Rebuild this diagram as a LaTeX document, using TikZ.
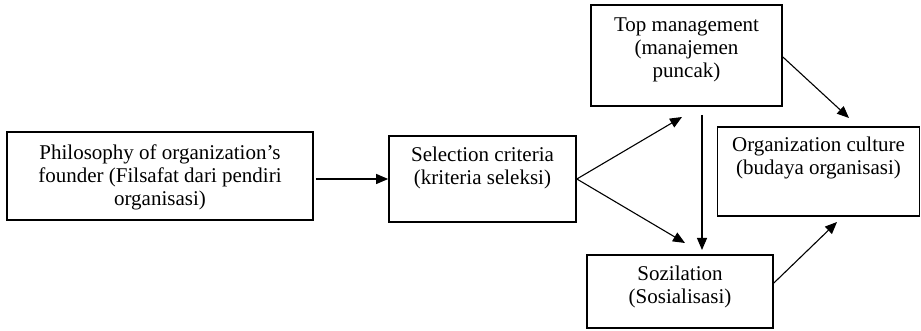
\documentclass[tikz,border=0pt]{standalone}
\usepackage{fontspec}
\setmainfont{Liberation Serif}
\usetikzlibrary{arrows.meta}

\begin{document}
\begin{tikzpicture}[
        x=1pt, y=1pt,
        box/.style={draw, line width=1.7pt, inner sep=0pt},
        txt/.style={align=center, inner sep=0pt, anchor=north,
            font=\fontsize{21}{23}\selectfont},
        arr/.style={-{Triangle[length=12pt, width=10pt]}, line width=1.1pt},
    ]
    \useasboundingbox (0, 0) rectangle (921, 331);

    %% the five boxes
    \node[box, minimum width=306pt, minimum height=88pt] (phil) at (160, 155) {};
    \node[box, minimum width=187pt, minimum height=86pt] (sel) at (482.5, 152) {};
    \node[box, minimum width=191pt, minimum height=101pt] (top) at (686.5, 275.5) {};
    \node[box, minimum width=186pt, minimum height=73pt] (soz) at (680, 39.5) {};
    \node[box, minimum width=202pt, minimum height=89pt] (cult) at (818.5, 159.5) {};

    %% their texts sit near the top edge
    \node[txt] (philtxt) at ([yshift=-13pt]phil.north)
        {Philosophy of organization's\\founder (Filsafat dari pendiri\\organisasi)};
    \node[txt] (seltxt) at ([yshift=-12pt]sel.north)
        {Selection criteria\\(kriteria seleksi)};
    \node[txt] (toptxt) at ([yshift=-13pt]top.north)
        {Top management\\(manajemen\\puncak)};
    \node[txt] (soztxt) at ([yshift=-12pt]soz.north)
        {Sozilation\\(Sosialisasi)};
    \node[txt] (culttxt) at ([yshift=-11pt]cult.north)
        {Organization culture\\(budaya organisasi)};

    %% free ends of the arrows
    \coordinate (topin) at (682, 214);
    \coordinate (sozin) at (685, 88);
    \coordinate (topout) at (702, 216);
    \coordinate (sozdown) at (702, 81);
    \coordinate (cultin) at (849, 213);
    \coordinate (cultup) at (837, 109);

    %% arrows
    \draw[arr] ([xshift=2pt]phil.east |- sel.west) -- (sel.west);
    \draw[arr] (sel.east) -- (topin);
    \draw[arr] (sel.east) -- (sozin);
    \draw[arr] (topout) -- (sozdown);
    \draw[arr] ([yshift=-1.5pt]top.east) -- (cultin);
    \draw[arr] ([yshift=8.5pt]soz.east) -- (cultup);
\end{tikzpicture}
\end{document}
